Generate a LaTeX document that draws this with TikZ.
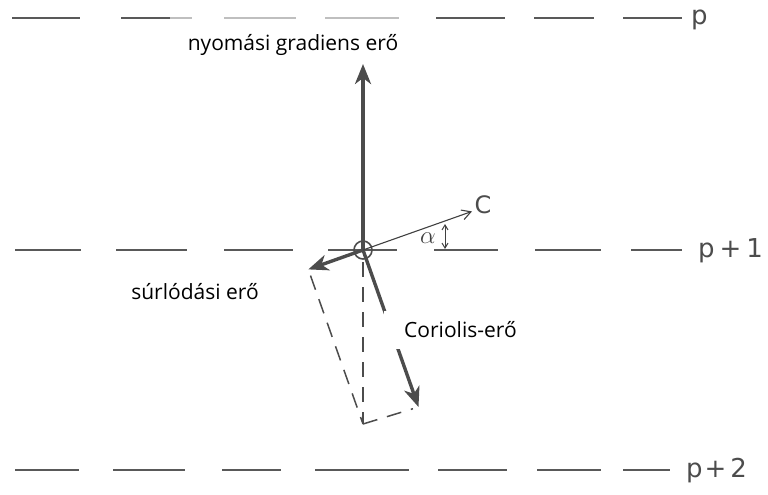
\documentclass[tikz,border=0pt]{standalone}
\usepackage{fontspec}
\setmainfont{Open Sans}
\newfontfamily\letfont{DejaVu Sans}
\usetikzlibrary{arrows.meta,calc}
\begin{document}
\begin{tikzpicture}[x=1pt,y=-1pt,
 lvl/.style={line width=1.8pt, draw=black!65},
 faint/.style={line width=1.3pt, draw=black!25},
 force/.style={line width=3.4pt, draw=black!70, -{Stealth[length=20pt,width=16pt,inset=6pt]}},
 dsh/.style={line width=1.5pt, draw=black!70, dash pattern=on 15pt off 10pt},
 lbl/.style={font=\fontsize{21}{23}\selectfont, inner sep=1pt},
 plbl/.style={font=\letfont\fontsize{26}{28}\selectfont, text=black!70, inner sep=0pt},
]
\useasboundingbox (0,0) rectangle (768,495);
% pressure levels
\foreach \a/\b in {12/80,121/170,436/505,534/594,623/682} \draw[lvl] (\a,18)--(\b,18);
\foreach \a/\b in {170/192,224/296,325/399} \draw[faint] (\a,18)--(\b,18);
\foreach \a/\b in {15/81,116/187,224/293,328/397,434/498,535/601,631/682} \draw[lvl] (\a,250)--(\b,250);
\foreach \a/\b in {15/79,113/185,222/281,315/409,438/507,537/601,623/670} \draw[lvl] (\a,470)--(\b,470);
\node[plbl, anchor=west] (p0) at (691,20) {p};
\node[plbl, anchor=west] (p1) at (698,251) {p\hspace{5pt}+\hspace{5pt}1};
\node[plbl, anchor=west] (p2) at (686,471) {p\hspace{2pt}+\hspace{4pt}2};
% geometry
\coordinate (O) at (363,250);
\coordinate (G) at (363,64);
\coordinate (Cc) at (472,211.4);
\coordinate (F) at (308.3,269.4);
\coordinate (Co) at (418.5,407);
\coordinate (R) at (363,424);
% dashed parallelogram
\draw[dsh] ($(F)!0.04!(R)$) -- (R);
\draw[dsh] (R) -- ($(R)!0.9!(Co)$);
\draw[dsh] ($(O)!0.07!(R)$) -- (R);
% forces
\draw[force] (O) -- (G);
\draw[force] (O) -- (F);
\draw[force] (O) -- (Co);
\node[circle, draw=black!70, line width=1.6pt, minimum size=18pt, inner sep=0pt] (circ) at (O) {};
% velocity c and angle
\draw[line width=1.1pt, draw=black!75, -{Straight Barb[length=9pt,width=10pt]}] (O) -- (Cc);
\node[plbl, font=\letfont\fontsize{24}{26}\selectfont] (cl) at (483,205) {C};
\coordinate (a1) at (445,224);
\coordinate (a2) at (445,249);
\draw[line width=1pt, draw=black!75, {Straight Barb[length=5pt,width=6pt]}-{Straight Barb[length=5pt,width=6pt]}] (a1) -- (a2);
\node[text=black!75, inner sep=0pt] (al) at (428,238) {\fontsize{28}{28}\selectfont$\alpha$};
% labels
\node[lbl] (gl) at (293,45) {nyomási gradiens erő};
\node[lbl] (fl) at (195,292) {súrlódási erő};
\node[lbl, anchor=west, fill=white, inner ysep=11pt, inner xsep=0pt] (kl) at (384,330) {\hspace*{20pt}Coriolis-erő};
\end{tikzpicture}
\end{document}
